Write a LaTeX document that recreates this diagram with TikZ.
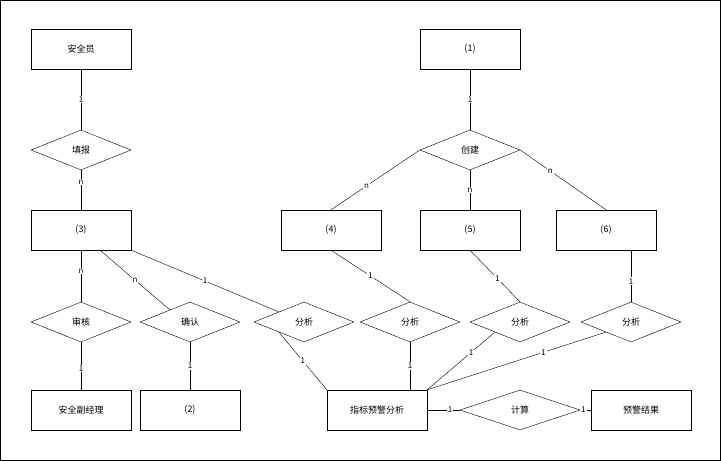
\documentclass[tikz,border=0pt]{standalone}
\usepackage{fontspec}
\setmainfont{Noto Sans CJK SC}
\usetikzlibrary{shapes.geometric,calc}
\begin{document}
\begin{tikzpicture}[x=1pt,y=-1pt,font=\fontsize{9}{10}\selectfont,
 ent/.style={draw,minimum width=100pt,minimum height=40pt,inner sep=0pt},
 rel/.style={draw,diamond,aspect=2.5,minimum width=100pt,minimum height=40pt,inner sep=0pt},
 lab/.style={fill=white,inner sep=1pt,font=\fontsize{8}{9}\selectfont}]
\draw (0.5,0.5) rectangle (720.5,460.5);
\useasboundingbox (0,0) rectangle (721,461);
\node[ent] (aq) at (81,49) {安全员};
\node[ent] (b1) at (470,49) {(1)};
\node[rel] (tb) at (81,150) {填报};
\node[rel] (cj) at (470,150) {创建};
\node[ent] (b3) at (81,230) {(3)};
\node[ent] (b4) at (331,230) {(4)};
\node[ent] (b5) at (470,230) {(5)};
\node[ent] (b6) at (606,230) {(6)};
\node[rel] (sh) at (81,322) {审核};
\node[rel] (qr) at (190,322) {确认};
\node[rel] (f1) at (304,322) {分析};
\node[rel] (f2) at (410,322) {分析};
\node[rel] (f3) at (520,322) {分析};
\node[rel] (f4) at (631,322) {分析};
\node[ent] (fj) at (81,410) {安全副经理};
\node[ent] (b2) at (190,410) {(2)};
\node[ent] (zb) at (377,410) {指标预警分析};
\node[draw,diamond,aspect=3,minimum width=120pt,minimum height=40pt,inner sep=0pt] (js) at (520,410) {计算};
\node[ent] (yj) at (641,410) {预警结果};
\draw (aq) -- node[lab]{1} (tb);
\draw (tb) -- node[lab,pos=0.3]{n} (b3);
\draw (b1) -- node[lab]{1} (cj);
\draw (cj.west) -- node[lab,pos=0.6]{n} (b4.north);
\draw (cj) -- node[lab,pos=0.5]{n} (b5);
\draw (cj.east) -- node[lab,pos=0.35]{n} (b6.north);
\draw (b3) -- node[lab,pos=0.4]{n} (sh);
\draw ($(b3.south)+(19,0)$) coordinate (q3) -- node[lab,pos=0.5]{n} ($(qr.north)!0.4!(qr.west)$);
\draw (b3.south east) -- node[lab,pos=0.5]{1} ($(f1.north)!0.5!(f1.west)$);
\draw (b4.south) -- node[lab,pos=0.5]{1} (f2.north);
\draw (b5.south) -- node[lab,pos=0.55]{1} (f3.north);
\draw (f4.north |- b6.south) -- node[lab,pos=0.6]{1} (f4.north);
\draw (sh) -- node[lab,pos=0.55]{1} (fj);
\draw (qr) -- node[lab,pos=0.5]{1} (b2);
\draw ($(f1.south)!0.5!(f1.west)$) -- node[lab,pos=0.5]{1} (zb.north west);
\draw (f2.south) -- node[lab,pos=0.5]{1} (f2.south |- zb.north);
\draw ($(f3.south)!0.5!(f3.west)$) -- node[lab,pos=0.35]{1} (zb.north east);
\draw ($(f4.south)!0.5!(f4.west)$) -- node[lab,pos=0.35]{1} (zb.north east);
\draw (zb) -- node[lab,pos=0.7]{1} (js);
\draw (js) -- node[lab,pos=0.3]{1} (yj);
\end{tikzpicture}
\end{document}
